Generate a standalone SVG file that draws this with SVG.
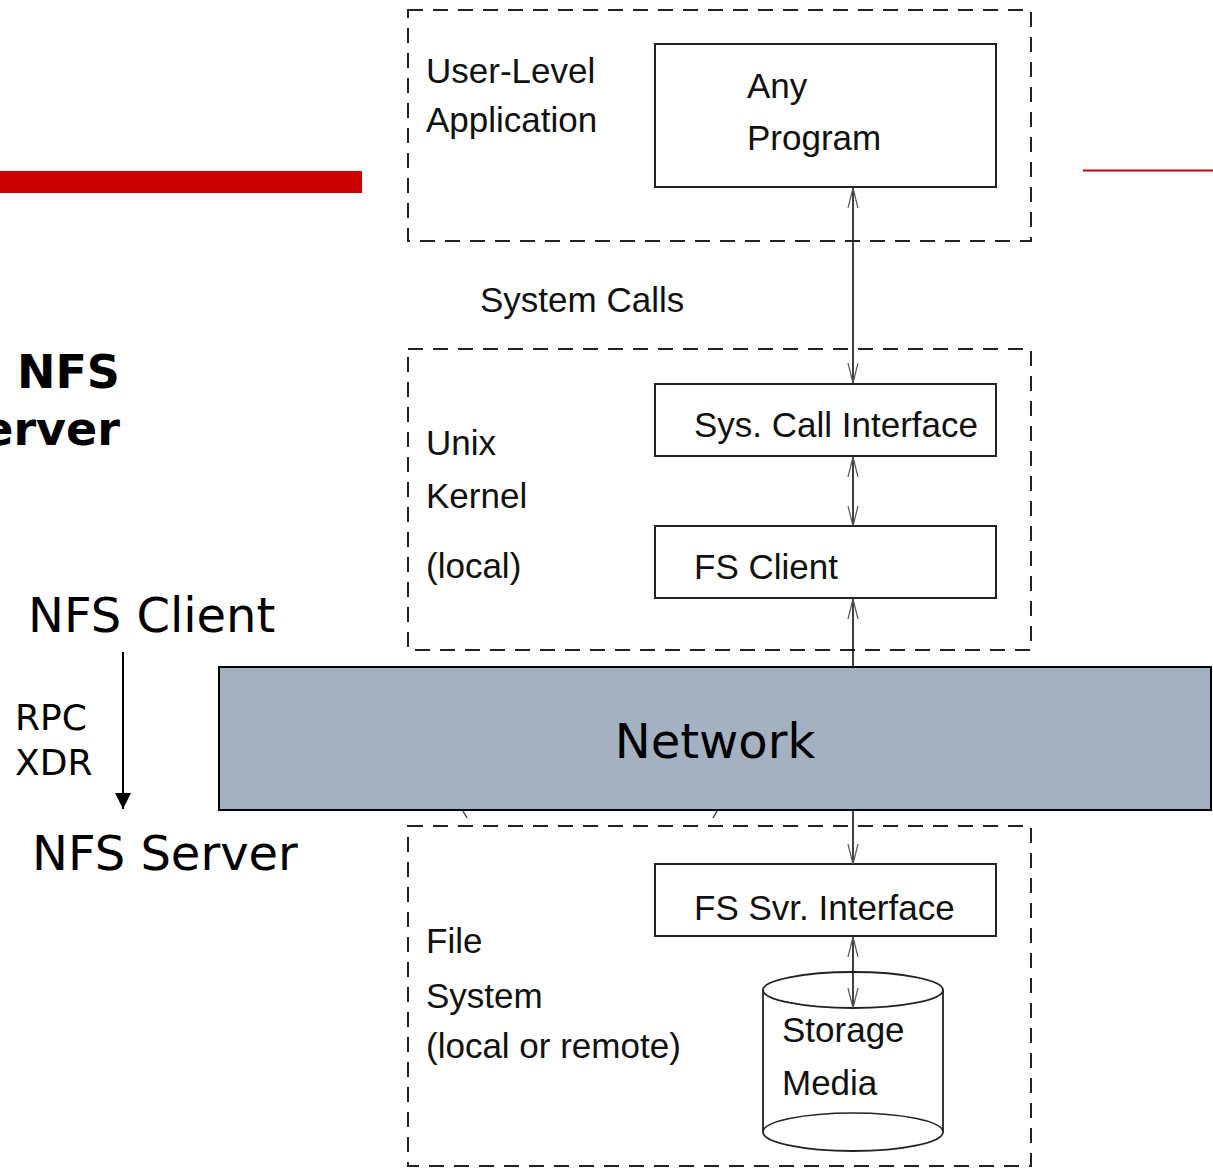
<svg xmlns="http://www.w3.org/2000/svg" width="1213" height="1168" viewBox="0 0 1213 1168">
<defs>
<style>
.dash{fill:none;stroke:#222;stroke-width:2;stroke-dasharray:15 10}
.box{fill:#fff;stroke:#222;stroke-width:2}
.t{font-family:"Liberation Sans",Arial,sans-serif;font-size:35px;fill:#111}
.d{font-family:"DejaVu Sans",Verdana,sans-serif;fill:#000}
.conn{stroke:#111;stroke-width:1.6;fill:none}
</style>
<marker id="open" viewBox="0 0 20 12" refX="20" refY="6" markerWidth="20" markerHeight="12" markerUnits="userSpaceOnUse" orient="auto-start-reverse">
<path d="M0,1 L20,6 L0,11" fill="none" stroke="#555" stroke-width="1.2"/>
</marker>
<marker id="solid" viewBox="0 0 16 16" refX="16" refY="8" markerWidth="16" markerHeight="16" markerUnits="userSpaceOnUse" orient="auto">
<path d="M0,0 L16,8 L0,16 Z" fill="#000"/>
</marker>
</defs>
<rect width="1213" height="1168" fill="#fff"/>
<rect x="0" y="171" width="362" height="22" fill="#CC0000"/>
<line x1="1083" y1="170.5" x2="1213" y2="170.5" stroke="#CC0000" stroke-width="2"/>

<g id="title">
<text class="d" x="120" y="388" font-size="46" font-weight="bold" text-anchor="end">NFS</text>
<text class="d" x="120" y="445" font-size="46" font-weight="bold" text-anchor="end">erver</text>
</g>

<g id="nfs-client"><text class="d" x="28" y="632" font-size="48">NFS Client</text></g>
<g id="rpc-label"><text class="d" x="15" y="730" font-size="36">RPC</text><text class="d" x="15" y="775" font-size="36">XDR</text></g>
<g id="nfs-server"><text class="d" x="32" y="870" font-size="48">NFS Server</text></g>

<g id="user-level">
<rect class="dash" x="408" y="10" width="623" height="231"/>
<text class="t" x="426" y="83">User-Level</text>
<text class="t" x="426" y="132">Application</text>
</g>
<g id="any-program">
<rect class="box" x="655" y="44" width="341" height="143"/>
<text class="t" x="747" y="98">Any</text>
<text class="t" x="747" y="150">Program</text>
</g>
<g id="system-calls"><text class="t" x="480" y="312">System Calls</text></g>

<g id="unix-kernel">
<rect class="dash" x="408" y="349" width="623" height="301"/>
<text class="t" x="426" y="455">Unix</text>
<text class="t" x="426" y="508">Kernel</text>
<text class="t" x="426" y="578">(local)</text>
</g>
<g id="sys-call-interface">
<rect class="box" x="655" y="384" width="341" height="72"/>
<text class="t" x="694" y="437">Sys. Call Interface</text>
</g>
<g id="fs-client">
<rect class="box" x="655" y="526" width="341" height="72"/>
<text class="t" x="694" y="579">FS Client</text>
</g>

<g id="file-system">
<rect class="dash" x="408" y="826" width="623" height="340"/>
<text class="t" x="426" y="953">File</text>
<text class="t" x="426" y="1008">System</text>
<text class="t" x="426" y="1058">(local or remote)</text>
</g>
<g id="fs-svr-interface">
<rect class="box" x="655" y="864" width="341" height="72"/>
<text class="t" x="694" y="920">FS Svr. Interface</text>
</g>
<g id="storage-media">
<path d="M763,990 L763,1132 A90,19 0 0 0 943,1132 L943,990" fill="#fff" stroke="#222" stroke-width="1.8"/>
<ellipse cx="853" cy="990" rx="90" ry="18" fill="#fff" stroke="#222" stroke-width="1.8"/>
<path d="M763,1132 A90,19 0 0 1 943,1132" fill="none" stroke="#222" stroke-width="1.5"/>
<text class="t" x="782" y="1042">Storage</text>
<text class="t" x="782" y="1095">Media</text>
</g>

<g id="connectors">
<line class="conn" x1="853" y1="188" x2="853" y2="383" marker-start="url(#open)" marker-end="url(#open)"/>
<line class="conn" x1="853" y1="457" x2="853" y2="526" marker-start="url(#open)" marker-end="url(#open)"/>
<line class="conn" x1="853" y1="599" x2="853" y2="864" marker-start="url(#open)" marker-end="url(#open)"/>
<line class="conn" x1="853" y1="937" x2="853" y2="1008" marker-start="url(#open)" marker-end="url(#open)"/>
<line x1="123" y1="652" x2="123" y2="809" stroke="#000" stroke-width="2" marker-end="url(#solid)"/>
<path d="M463,811 L467,818 M717,811 L713,818" stroke="#444" stroke-width="1.5" fill="none"/>
</g>

<g id="network">
<rect x="219" y="667" width="992" height="143" fill="#A3B1C1" stroke="#000" stroke-width="2"/>
<text class="d" x="715" y="758" font-size="48" text-anchor="middle">Network</text>
</g>
</svg>
